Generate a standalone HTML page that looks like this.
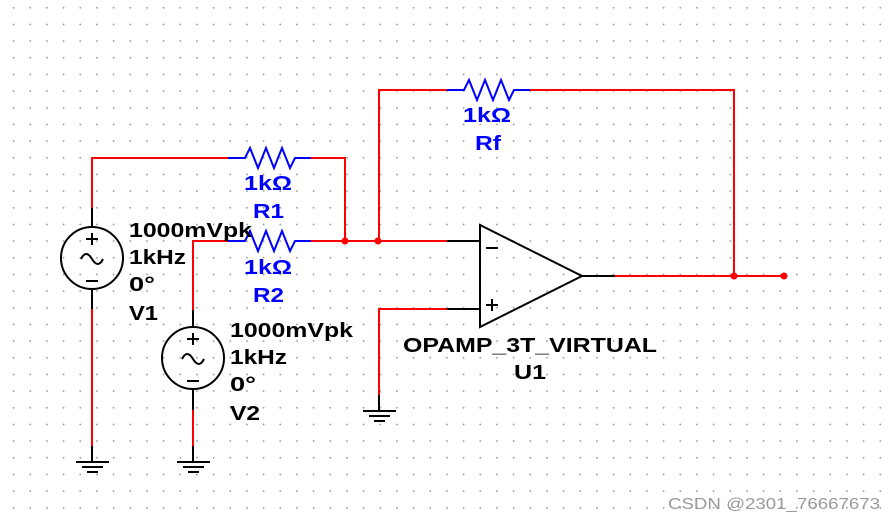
<!DOCTYPE html>
<html><head><style>
body{margin:0;background:#fff}
svg{display:block}
text{font-family:"Liberation Sans",Arial,sans-serif;font-weight:bold;font-size:20px}
.b{fill:#0000ff}
</style></head><body>
<svg width="896" height="521" viewBox="0 0 896 521" xmlns="http://www.w3.org/2000/svg">
<defs>
<pattern id="g" x="12.6" y="6.8" width="16.667" height="16.667" patternUnits="userSpaceOnUse">
<rect x="0" y="0.5" width="2" height="0.8" fill="#999"/><rect x="0.6" y="0" width="0.8" height="2" fill="#999"/>
</pattern>
</defs>
<rect width="896" height="521" fill="url(#g)"/>
<g fill="none" stroke-width="2">
<g stroke="#ff0000">
<polyline points="379,241 379,90 447,90"/>
<polyline points="530,90 734,90 734,276"/>
<polyline points="92,208 92,158 228,158"/>
<polyline points="311,158 345,158 345,241"/>
<polyline points="193,310 193,241 228,241"/>
<polyline points="311,241 447,241"/>
<polyline points="447,309 379,309 379,395"/>
<line x1="615" y1="276" x2="785" y2="276"/>
<line x1="92" y1="309" x2="92" y2="446"/>
<line x1="193" y1="410" x2="193" y2="446"/>
</g>
<g stroke="#0000ff">
<polyline points="447,90 464,90 469,80 477,100 485,80 493,100 501,80 509,100 514,90 530,90"/>
<polyline points="228,158 245,158 250,148 258,168 266,148 274,168 282,148 290,168 295,158 311,158"/>
<polyline points="228,241 245,241 250,231 258,251 266,231 274,251 282,231 290,251 295,241 311,241"/>
</g>
<g stroke="#000">
<line x1="447" y1="241" x2="480" y2="241"/>
<line x1="447" y1="309" x2="480" y2="309"/>
<polygon points="480,225 480,327 582,276"/>
<line x1="582" y1="276" x2="615" y2="276"/>
<line x1="92" y1="208" x2="92" y2="227"/>
<line x1="92" y1="289" x2="92" y2="309"/>
<circle cx="92" cy="258" r="31"/>
<line x1="193" y1="310" x2="193" y2="327"/>
<line x1="193" y1="389" x2="193" y2="410"/>
<circle cx="193" cy="358" r="31"/>
<line x1="92" y1="446" x2="92" y2="462"/>
<line x1="193" y1="446" x2="193" y2="462"/>
<line x1="379" y1="395" x2="379" y2="411"/>
<line x1="76" y1="462" x2="109" y2="462"/><line x1="82" y1="467" x2="103" y2="467"/><line x1="87" y1="472" x2="98" y2="472"/>
<line x1="177" y1="462" x2="210" y2="462"/><line x1="183" y1="467" x2="204" y2="467"/><line x1="188" y1="472" x2="199" y2="472"/>
<line x1="363" y1="411" x2="396" y2="411"/><line x1="369" y1="416" x2="390" y2="416"/><line x1="374" y1="421" x2="385" y2="421"/>
<line x1="86" y1="239" x2="98" y2="239"/><line x1="92" y1="233" x2="92" y2="245"/>
<line x1="86" y1="281" x2="98" y2="281"/>
<path d="M81,259 q5,-10 11,0 q6,10 11,0"/>
<line x1="187" y1="339" x2="199" y2="339"/><line x1="193" y1="333" x2="193" y2="345"/>
<line x1="187" y1="381" x2="199" y2="381"/>
<path d="M182,359 q5,-10 11,0 q6,10 11,0"/>
<line x1="486" y1="248" x2="498" y2="248"/>
<line x1="486" y1="305" x2="498" y2="305"/><line x1="492" y1="299" x2="492" y2="311"/>
</g>
</g>
<g fill="#ff0000">
<circle cx="345" cy="241" r="3.5"/><circle cx="378" cy="241" r="3.5"/>
<circle cx="734" cy="276" r="3.5"/><circle cx="784" cy="276" r="3.5"/>
</g>
<g lengthAdjust="spacingAndGlyphs">
<text class="b" x="463" y="122" textLength="48" lengthAdjust="spacingAndGlyphs">1kΩ</text>
<text class="b" x="475" y="150" textLength="26" lengthAdjust="spacingAndGlyphs">Rf</text>
<text class="b" x="244" y="190" textLength="48" lengthAdjust="spacingAndGlyphs">1kΩ</text>
<text class="b" x="253" y="218" textLength="31" lengthAdjust="spacingAndGlyphs">R1</text>
<text class="b" x="244" y="274" textLength="48" lengthAdjust="spacingAndGlyphs">1kΩ</text>
<text class="b" x="253" y="302" textLength="31" lengthAdjust="spacingAndGlyphs">R2</text>
<text x="129" y="237" textLength="123" lengthAdjust="spacingAndGlyphs">1000mVpk</text>
<text x="129" y="264" textLength="57" lengthAdjust="spacingAndGlyphs">1kHz</text>
<text x="129" y="291" textLength="26" lengthAdjust="spacingAndGlyphs">0°</text>
<text x="129" y="320" textLength="29" lengthAdjust="spacingAndGlyphs">V1</text>
<text x="230" y="337" textLength="123" lengthAdjust="spacingAndGlyphs">1000mVpk</text>
<text x="230" y="364" textLength="57" lengthAdjust="spacingAndGlyphs">1kHz</text>
<text x="230" y="391" textLength="26" lengthAdjust="spacingAndGlyphs">0°</text>
<text x="230" y="420" textLength="30" lengthAdjust="spacingAndGlyphs">V2</text>
<text x="403" y="352" textLength="254" lengthAdjust="spacingAndGlyphs">OPAMP_3T_VIRTUAL</text>
<text x="514" y="379" textLength="32" lengthAdjust="spacingAndGlyphs">U1</text>
<text x="668" y="509" textLength="212" lengthAdjust="spacingAndGlyphs" style="font-weight:normal;font-size:16px;fill:#999">CSDN @2301_76667673</text>
</g>
</svg>
</body></html>
